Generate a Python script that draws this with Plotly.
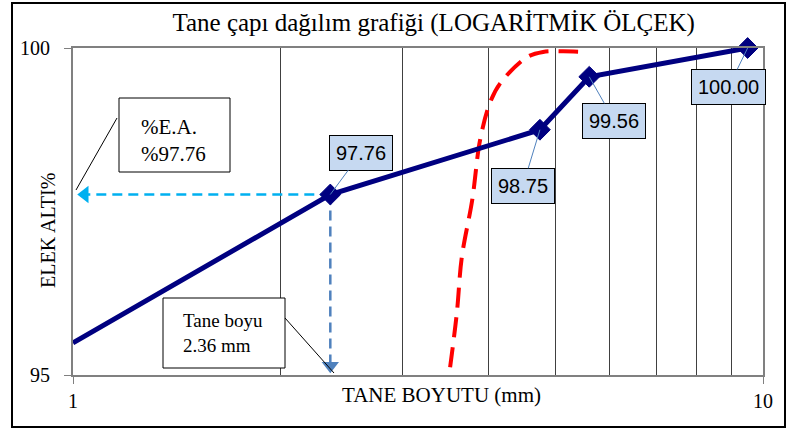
import numpy as np
import plotly.graph_objects as go

# sieve curve (navy)
size_mm = [1.0, 2.36, 4.75, 5.6, 9.5]
passing = [95.49, 97.76, 98.75, 99.56, 100.00]
label_txt = ['', '97.76', '98.75', '99.56', '100.00']
# label box offsets in px (ax, ay)
label_off = [None, (31, -42), (-17, 56), (25, 44), (-19, 39)]

# red dashed limit curve
lim_x = [3.52, 3.60, 3.66, 3.79, 3.89, 4.02, 4.16, 4.55, 4.80, 5.13, 5.52]
lim_y = [95.12, 95.95, 96.80, 97.68, 98.59, 99.16, 99.46, 99.86, 99.94, 99.95, 99.94]

# reading lines for D = 2.36 mm
read_x = 2.36
read_y = 97.76
arrow_x = 1.04
arrow_y = 95.14

grid_x = [2, 3, 4, 5, 6, 7, 8, 9]

SERIF = 'Liberation Serif'
SANS = 'Liberation Sans'

# plot area in pixels: l=73, r=763, t=48, b=375
L, R, T, B = 73, 763, 48, 375
def px(x):
    return (x - L) / (R - L)
def py(y):
    return (B - y) / (B - T)

fig = go.Figure()

fig.add_trace(go.Scatter(x=lim_x, y=lim_y, mode='lines', line_shape='spline',
                         line=dict(color='#FF0000', width=4, dash='20px,10px'),
                         hoverinfo='skip'))

fig.add_trace(go.Scatter(x=[read_x, arrow_x], y=[read_y, read_y], mode='lines',
                         line=dict(color='#00B0F0', width=2.5, dash='10px,6px')))
fig.add_trace(go.Scatter(x=[arrow_x], y=[read_y], mode='markers',
                         marker=dict(symbol='triangle-left', size=15, color='#00B0F0')))
fig.add_trace(go.Scatter(x=[read_x, read_x], y=[read_y, arrow_y], mode='lines',
                         line=dict(color='#4F81BD', width=2.5, dash='10px,6px')))
fig.add_trace(go.Scatter(x=[read_x], y=[arrow_y], mode='markers',
                         marker=dict(symbol='triangle-down', size=15, color='#4F81BD')))

fig.add_trace(go.Scatter(x=size_mm, y=passing, mode='lines+markers', cliponaxis=False,
                         line=dict(color='#000080', width=5),
                         marker=dict(symbol='diamond', size=[0, 16, 16, 16, 16], color='#000080',
                                     opacity=1, line=dict(color='#000080', width=1))))

anns = []
for xv, yv, t, off in zip(size_mm, passing, label_txt, label_off):
    if off is None:
        continue
    anns.append(dict(x=np.log10(xv), y=yv, xref='x', yref='y', text=t,
                     showarrow=True, arrowhead=0, arrowwidth=1, arrowcolor='#4F81BD',
                     ax=off[0], ay=off[1], bgcolor='#C6D9F1', bordercolor='#000000',
                     borderwidth=1, borderpad=6, font=dict(family=SANS, size=20, color='#000000')))

# callout texts
anns.append(dict(x=px(139), y=py(140), xref='paper', yref='paper', xanchor='left', yanchor='middle',
                 text='%E.A.<br>%97.76', align='left', showarrow=False,
                 font=dict(family=SERIF, size=21, color='#000000')))
anns.append(dict(x=px(181), y=py(333), xref='paper', yref='paper', xanchor='left', yanchor='middle',
                 text='Tane boyu<br>2.36 mm', align='left', showarrow=False,
                 font=dict(family=SERIF, size=19, color='#000000')))
# axis titles
anns.append(dict(x=px(35), y=py(231), xref='paper', yref='paper', text='ELEK ALTI%', textangle=-90,
                 showarrow=False, font=dict(family=SERIF, size=20, color='#000000')))
anns.append(dict(x=px(441), y=py(409), xref='paper', yref='paper', text='TANE BOYUTU (mm)',
                 showarrow=False, font=dict(family=SERIF, size=21, color='#000000')))

shapes = [
    dict(type='rect', xref='paper', yref='paper', x0=px(12), x1=px(785), y0=py(3), y1=py(427),
         line=dict(color='#000000', width=2), layer='below'),
    dict(type='rect', xref='paper', yref='paper', x0=px(119), x1=px(230), y0=py(98), y1=py(172),
         line=dict(color='#000000', width=1), fillcolor='white'),
    dict(type='line', xref='paper', yref='paper', x0=px(117), y0=py(118), x1=px(76), y1=py(190),
         line=dict(color='#000000', width=1)),
    dict(type='rect', xref='paper', yref='paper', x0=px(163), x1=px(285), y0=py(298), y1=py(368),
         line=dict(color='#000000', width=1), fillcolor='white'),
    dict(type='line', xref='paper', yref='paper', x0=px(285), y0=py(318), x1=px(334), y1=py(373),
         line=dict(color='#000000', width=1)),
]

fig.update_layout(
    width=787, height=430,
    margin=dict(l=L, r=787 - R, t=T, b=430 - B),
    paper_bgcolor='white', plot_bgcolor='white',
    showlegend=False,
    title=dict(text='Tane çapı dağılım grafiği (LOGARİTMİK ÖLÇEK)', xref='container', x=0.551,
               xanchor='center', y=1 - 22 / 430, yanchor='middle',
               font=dict(family=SERIF, size=25, color='#000000')),
    xaxis=dict(type='log', range=[0, 1], tickvals=[1, 10], ticktext=['1', '10'],
               ticks='outside', ticklen=7, tickcolor='#808080', showgrid=False, zeroline=False,
               showline=True, linecolor='#808080', linewidth=2, mirror=True,
               tickfont=dict(family=SERIF, size=20, color='#000000'),
               minor=dict(tickvals=grid_x, showgrid=True, gridcolor='#404040', gridwidth=1, ticks='')),
    yaxis=dict(range=[95, 100], tickvals=[95, 100], ticks='outside', ticklen=7, tickcolor='#808080',
               ticklabelstandoff=10,
               showgrid=False, zeroline=False, showline=True, linecolor='#808080', linewidth=2,
               mirror=True, tickfont=dict(family=SERIF, size=20, color='#000000')),
    annotations=anns,
    shapes=shapes,
)

fig.write_html("out.html", config={'displayModeBar': False},
               post_script="document.body.style.margin='0';")
